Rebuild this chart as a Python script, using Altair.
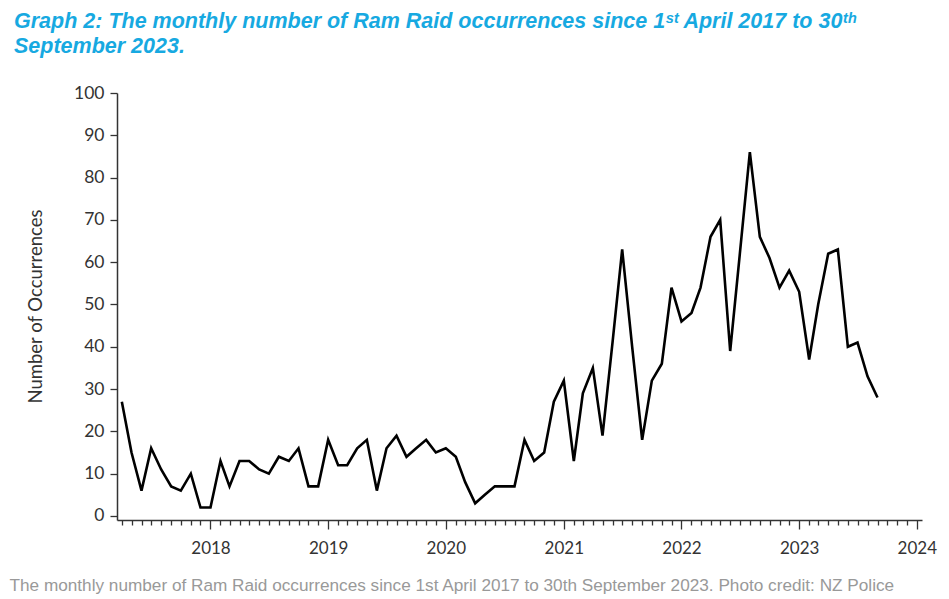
import altair as alt
import pandas as pd

# ---- data ----
first_month = "2017-04-01"
occurrences = [
    27, 15, 6, 16, 11, 7, 6, 10, 2,                   # 2017 Apr-Dec
    2, 13, 7, 13, 13, 11, 10, 14, 13, 16, 7, 7,       # 2018
    18, 12, 12, 16, 18, 6, 16, 19, 14, 16, 18, 15,    # 2019
    16, 14, 8, 3, 5, 7, 7, 7, 18, 13, 15, 27,         # 2020
    32, 13, 29, 35, 19, 41, 63, 40, 18, 32, 36, 54,   # 2021
    46, 48, 54, 66, 70, 39, 62, 86, 66, 61, 54, 58,   # 2022
    53, 37, 50, 62, 63, 40, 41, 33, 28,               # 2023 Jan-Sep
]
months = pd.date_range(first_month, periods=len(occurrences), freq="MS").strftime("%Y-%m-%d").tolist()

y_ticks = [0, 10, 20, 30, 40, 50, 60, 70, 80, 90, 100]
x_tick_months = pd.date_range("2017-04-01", "2024-01-01", freq="MS")
x_domain = ["2017-03-17", "2024-01-17"]

title_lines = [
    "Graph 2: The monthly number of Ram Raid occurrences since 1ˢᵗ April 2017 to 30ᵗʰ",
    "September 2023.",
]
y_title = "Number of Occurrences"
caption = "The monthly number of Ram Raid occurrences since 1st April 2017 to 30th September 2023. Photo credit: NZ Police"


def ms(ts):
    return int(pd.Timestamp(ts, tz="UTC").value // 1_000_000)


df = pd.DataFrame({"month": months, "count": occurrences})

x_axis = alt.Axis(
    values=[ms(t) for t in x_tick_months],
    labelExpr="utcmonth(datum.value) === 0 ? utcFormat(datum.value, '%Y') : ''",
    tickSize={"condition": {"test": "utcmonth(datum.value) === 0", "value": 9}, "value": 5},
    labelOverlap=False,
    labelFlush=False,
    grid=False,
    domainColor="#333333",
    domainWidth=1.5,
    tickColor="#333333",
    tickWidth=1.3,
    labelFont="Lato",
    labelFontSize=17,
    labelColor="#333333",
    labelPadding=11,
    title=caption,
    titleFont="Liberation Sans",
    titleFontSize=17.2,
    titleFontWeight="normal",
    titleColor="#999999",
    titleX=-108,
    titleY=65,
    titleAlign="left",
    titleBaseline="middle",
)

y_axis = alt.Axis(
    values=y_ticks,
    tickSize=7,
    grid=False,
    domainColor="#333333",
    domainWidth=1.5,
    tickColor="#333333",
    tickWidth=1.3,
    labelFont="Lato",
    labelFontSize=17.5,
    labelColor="#333333",
    labelPadding=6,
    title=y_title,
    titleFont="Lato",
    titleFontSize=18.5,
    titleFontWeight="normal",
    titleColor="#333333",
    titleAngle=270,
    titleX=-82,
    titleY=213,
    titleAlign="center",
    titleBaseline="middle",
)

line = (
    alt.Chart(df)
    .mark_line(color="#000000", strokeWidth=2.6, strokeJoin="miter")
    .encode(
        x=alt.X("month:T", axis=x_axis,
                scale=alt.Scale(type="utc", domain=[ms(d) for d in x_domain], nice=False)),
        y=alt.Y("count:Q", axis=y_axis,
                scale=alt.Scale(domain=[-0.95, 100], nice=False, zero=False)),
    )
)

chart = (
    line.properties(
        width=805,
        height=427,
        title=alt.TitleParams(
            text=title_lines,
            anchor="start",
            frame="group",
            dx=-103,
            offset=27,
            font="Liberation Sans",
            fontSize=21.5,
            fontWeight="bold",
            fontStyle="italic",
            color="#17a9e1",
            lineHeight=25,
        ),
        autosize=alt.AutoSizeParams(type="none"),
        padding={"left": 109, "top": 85, "right": 19, "bottom": 75},
    )
    .configure_view(stroke=None)
)

chart.save("out.html", embed_options={"renderer": "svg", "actions": False})
